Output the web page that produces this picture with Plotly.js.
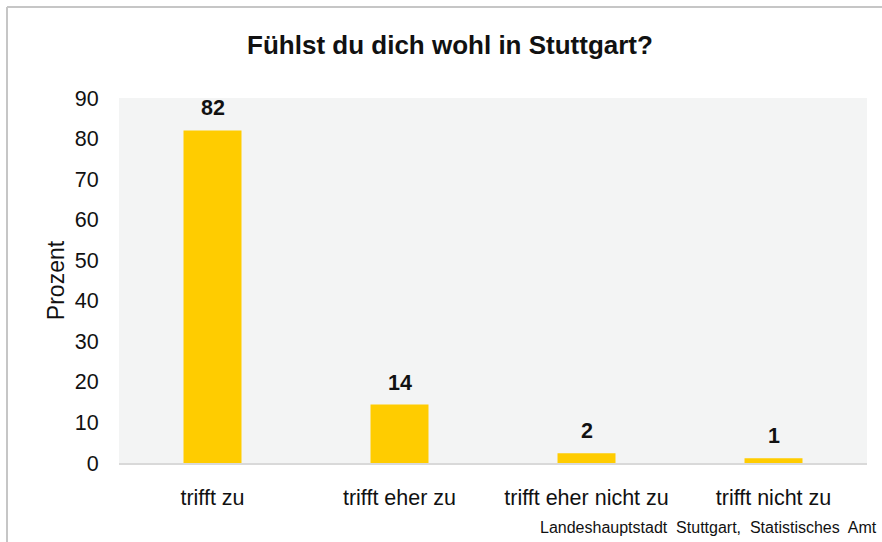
<!DOCTYPE html>
<html><head><meta charset="utf-8">
<script src="https://cdn.plot.ly/plotly-3.0.1.min.js"></script>
<style>html,body{margin:0;padding:0;background:#fff}#c{width:882px;height:542px}</style>
</head><body><div id="c"></div>
<script>
const categories = ["trifft zu", "trifft eher zu", "trifft eher nicht zu", "trifft nicht zu"];
const values = [82, 14.4, 2.4, 1.2];
const labels = ["82", "14", "2", "1"];
const yTicks = [0, 10, 20, 30, 40, 50, 60, 70, 80, 90];

const L = 119, R = 15, T = 98, B = 79, W = 882, H = 542;
const pw = W - L - R, ph = H - T - B;
const FONT = 'Liberation Sans, Arial, sans-serif';

const trace = {
  type: 'bar', x: categories, y: values,
  marker: {color: '#ffcc00'}, hoverinfo: 'none'
};
const annotations = categories.map((c, i) => ({
  x: c, y: values[i], xref: 'x', yref: 'y', text: labels[i], showarrow: false,
  yanchor: 'bottom', yshift: 8,
  font: {family: FONT, size: 21.5, color: '#111', weight: 'bold'}
}));
annotations.push({
  xref: 'paper', yref: 'paper', x: (879 - L) / pw, y: (H - B - 527) / ph,
  xanchor: 'right', yanchor: 'middle', showarrow: false,
  text: 'Landeshauptstadt&nbsp; Stuttgart,&nbsp; Statistisches&nbsp; Amt',
  font: {family: FONT, size: 16, color: '#111'}
});
const layout = {
  width: W, height: H,
  margin: {l: L, r: R, t: T, b: B, pad: 0},
  paper_bgcolor: '#ffffff', plot_bgcolor: '#f3f4f4',
  bargap: 0.69, showlegend: false,
  font: {family: FONT, color: '#111'},
  title: {
    text: '<b>Fühlst du dich wohl in Stuttgart?</b>',
    xref: 'container', yref: 'container', x: 450 / W, y: 1 - 45 / H,
    xanchor: 'center', yanchor: 'middle',
    font: {family: FONT, size: 26, color: '#111'}
  },
  xaxis: {
    showgrid: false, zeroline: false, showline: true, linecolor: '#d9d9d9', linewidth: 2,
    ticks: 'outside', ticklen: 14, tickcolor: 'rgba(0,0,0,0)',
    tickfont: {size: 21.5, color: '#111'}
  },
  yaxis: {
    range: [0, 90], tickvals: yTicks, showgrid: false, zeroline: false, showline: false,
    ticks: 'outside', ticklen: 15, tickcolor: 'rgba(0,0,0,0)',
    tickfont: {size: 21.5, color: '#111'},
    title: {text: 'Prozent', standoff: 3, font: {size: 23, color: '#111'}}
  },
  annotations: annotations,
  shapes: [
    {type: 'line', xref: 'paper', yref: 'paper', x0: (7 - L) / pw, x1: (882 - L) / pw,
     y0: (H - B - 7) / ph, y1: (H - B - 7) / ph, line: {color: '#c6c6c6', width: 2}},
    {type: 'line', xref: 'paper', yref: 'paper', x0: (7 - L) / pw, x1: (7 - L) / pw,
     y0: (H - B - 7) / ph, y1: (H - B - 545) / ph, line: {color: '#c6c6c6', width: 2}}
  ]
};
Plotly.newPlot('c', [trace], layout, {staticPlot: true, displayModeBar: false});
</script></body></html>
